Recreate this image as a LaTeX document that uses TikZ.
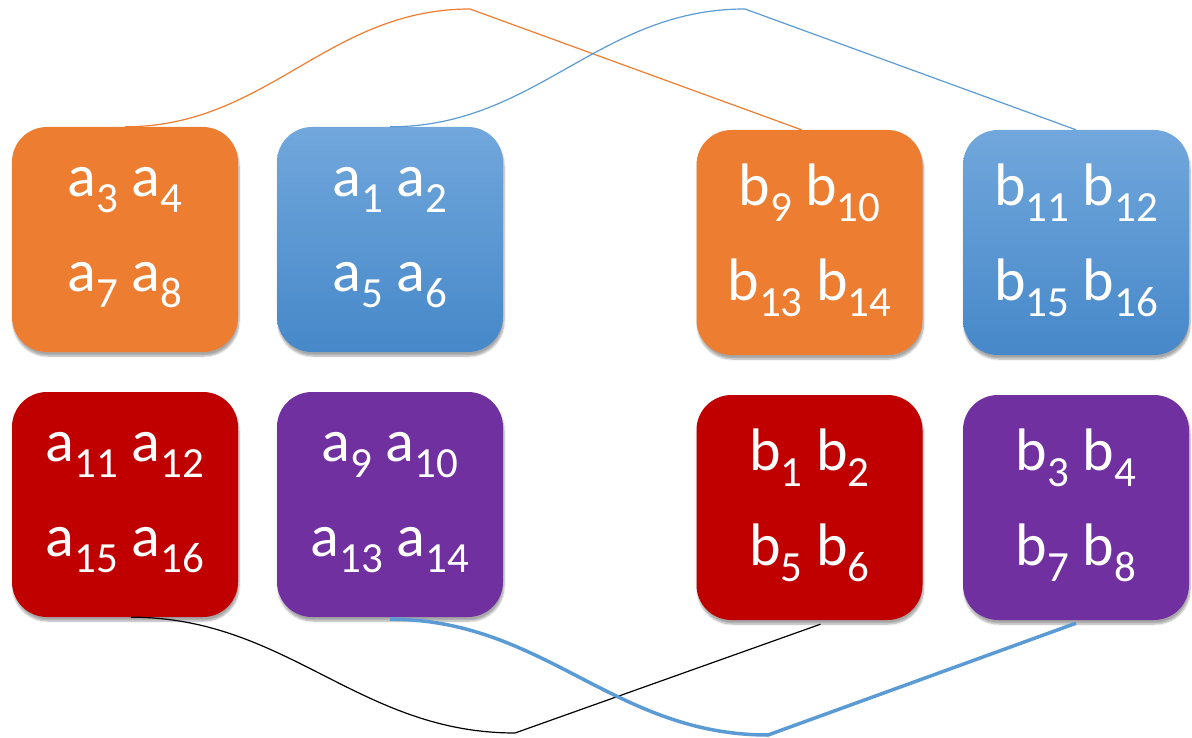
\documentclass[tikz,border=0pt]{standalone}
\usepackage{fontspec}
\setmainfont{Carlito}
\usetikzlibrary{shadows.blur}

\definecolor{boxorange}{HTML}{ED7D31}
\definecolor{boxred}{HTML}{C00000}
\definecolor{boxpurple}{HTML}{7030A0}
\definecolor{boxbluetop}{HTML}{71A7DC}
\definecolor{boxbluebot}{HTML}{4688C9}
\definecolor{linkblue}{HTML}{5B9BD5}

\newcommand{\ix}[1]{\raisebox{-16pt}{\fontsize{43}{43}\selectfont #1}}

\tikzset{
  blk/.style={rounded corners=35pt, minimum width=226pt, minimum height=225pt,
    inner sep=0pt, text=white, align=center, font=\fontsize{60}{95}\selectfont,
    execute at begin node={\rule{0pt}{54pt}}, execute at end node={\rule[-20pt]{0pt}{20pt}},
    blur shadow={shadow xshift=1pt, shadow yshift=-4pt, shadow blur steps=6, shadow opacity=35}},
  orangeblk/.style={blk, fill=boxorange},
  blueblk/.style={blk, top color=boxbluetop, bottom color=boxbluebot},
  redblk/.style={blk, fill=boxred},
  purpleblk/.style={blk, fill=boxpurple},
  thinlink/.style={line width=1.2pt},
  thicklink/.style={line width=3.5pt, draw=linkblue}
}

\begin{document}
\begin{tikzpicture}[x=1pt, y=-1pt]
\useasboundingbox (0,0) rectangle (1192,738);

% matrix A
\node[orangeblk] (A1) at (125,239.5) {a\ix{3} a\ix{4}\\a\ix{7} a\ix{8}};
\node[blueblk] (A2) at (390,239.5) {a\ix{1} a\ix{2}\\a\ix{5} a\ix{6}};
\node[redblk] (A3) at (125,504.5) {a\ix{11} a\ix{12}\\a\ix{15} a\ix{16}};
\node[purpleblk] (A4) at (390,504.5) {a\ix{9} a\ix{10}\\a\ix{13} a\ix{14}};

% matrix B
\node[orangeblk] (B1) at (809.5,242.5) {b\ix{9} b\ix{10}\\b\ix{13} b\ix{14}};
\node[blueblk] (B2) at (1076,242.5) {b\ix{11} b\ix{12}\\b\ix{15} b\ix{16}};
\node[redblk] (B3) at (809.5,507.5) {b\ix{1} b\ix{2}\\b\ix{5} b\ix{6}};
\node[purpleblk] (B4) at (1076,507.5) {b\ix{3} b\ix{4}\\b\ix{7} b\ix{8}};

% turning points
\coordinate (t1) at (470,9);
\coordinate (t2) at (745,9);
\coordinate (t3) at (515,733);
\coordinate (t4) at (768,735);

\draw[thinlink, draw=boxorange] (A1.north) to[out=0,in=180] (t1) -- ([xshift=-8pt]B1.north);
\draw[thinlink, draw=linkblue] (A2.north) to[out=0,in=180] (t2) -- (B2.north);
\draw[thinlink, draw=black] ([xshift=6pt]A3.south) to[out=0,in=180] (t3) -- ([xshift=11pt, yshift=-4pt]B3.south);
\draw[thicklink] ([yshift=-2pt]A4.south) to[out=0,in=180] (t4) -- ([yshift=-3pt]B4.south);
\end{tikzpicture}
\end{document}
